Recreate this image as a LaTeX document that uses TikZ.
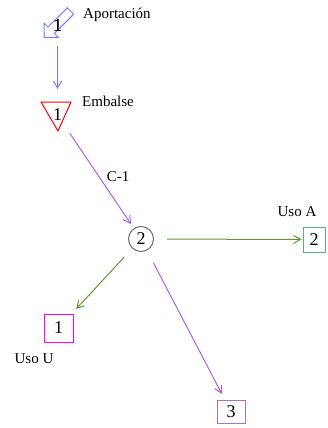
\documentclass[tikz,border=0pt]{standalone}
\usepackage{fontspec}
\setmainfont{Liberation Serif}
\usetikzlibrary{arrows.meta}
\definecolor{cblue}{RGB}{125,125,255}
\definecolor{cpurple}{RGB}{175,95,230}
\definecolor{cgreen}{RGB}{100,150,55}
\definecolor{cmint}{RGB}{80,185,120}
\definecolor{cmag}{RGB}{255,0,255}
\definecolor{cbox3}{RGB}{170,110,220}
\definecolor{cgray}{RGB}{110,110,110}
\tikzset{
  lbl/.style={font=\fontsize{15}{17}\selectfont, inner sep=0pt},
  num/.style={font=\fontsize{18}{20}\selectfont, inner sep=0pt},
  conn/.style={line width=1pt, -{Straight Barb[length=7pt,width=8pt]}},
  usebox/.style={num, draw, line width=1pt, rectangle},
}
\begin{document}
\begin{tikzpicture}[x=1pt,y=-1pt]
\useasboundingbox (0,0) rectangle (327,428);
% nodes
\node[num] (ap) at (57.7,26) {1};
\node[num] (emb) at (57.5,115) {1};
\node[num, draw=cgray, circle, line width=1pt, minimum size=25pt] (c2) at (141,239) {2};
\node[usebox, draw=cmint, minimum width=22pt, minimum height=25pt] (ua) at (314,239.5) {2};
\node[usebox, draw=cmag, minimum width=29pt, minimum height=28pt] (uu) at (58.5,328) {1};
\node[usebox, draw=cbox3, minimum width=28pt, minimum height=23pt] (u3) at (231,411.5) {3};
% shapes
\draw[cblue, line width=1pt, shift={(ap.center)}]
  (-13.7,11.5) -- (-13.7,-3) -- (-9.7,1) -- (9.6,-18.2) -- (16,-11.8) -- (-3.3,7.4) -- (0.8,11.5) -- cycle;
\node[num] at (ap.center) {1};
\draw[red, line width=1pt]
  ([shift={(-16.5,-13)}]emb.center) -- ([shift={(13.5,-13)}]emb.center) -- ([shift={(0.5,16)}]emb.center) -- cycle;
% labels
\node[lbl, anchor=west] (lap) at (83,15) {Aportación};
\node[lbl, anchor=west] (lemb) at (82,101) {Embalse};
\node[lbl] (lua) at (297,212) {Uso A};
\node[lbl] (luu) at (34,359) {Uso U};
% connectors
\draw[conn, cblue, shorten <=20pt, shorten >=26pt] (ap.center) -- (emb.center);
\draw[conn, cpurple, shorten <=22pt, shorten >=18pt] (emb.center) -- node[lbl, pos=0.5, anchor=west, xshift=7pt, black] {C-1} (c2.center);
\draw[conn, cgreen, shorten <=26pt, shorten >=12.5pt] (c2.center) -- (ua.center);
\draw[conn, cgreen, shorten <=25pt, shorten >=26pt] (c2.center) -- (uu.center);
\draw[conn, cpurple, shorten <=27pt, shorten >=20pt] (c2.center) -- (u3.center);
\end{tikzpicture}
\end{document}
